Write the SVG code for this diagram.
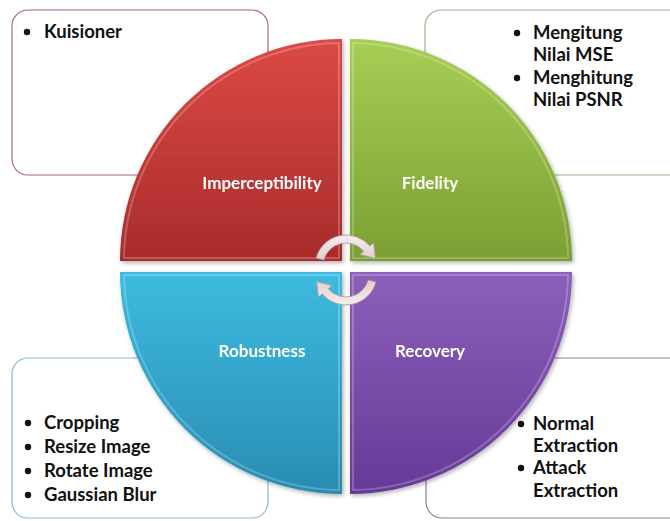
<svg xmlns="http://www.w3.org/2000/svg" width="670" height="521" viewBox="0 0 670 521">
  <defs>
    <linearGradient id="gRed" x1="0" y1="0" x2="0" y2="1">
      <stop offset="0" stop-color="#db4a45"/>
      <stop offset="1" stop-color="#a82b2b"/>
    </linearGradient>
    <linearGradient id="gGreen" x1="0" y1="0" x2="0" y2="1">
      <stop offset="0" stop-color="#a6cf55"/>
      <stop offset="1" stop-color="#7c9f33"/>
    </linearGradient>
    <linearGradient id="gBlue" x1="0" y1="0" x2="0" y2="1">
      <stop offset="0" stop-color="#3dbbe0"/>
      <stop offset="1" stop-color="#2a8cb2"/>
    </linearGradient>
    <linearGradient id="gPurple" x1="0" y1="0" x2="0" y2="1">
      <stop offset="0" stop-color="#8c5fba"/>
      <stop offset="1" stop-color="#653a98"/>
    </linearGradient>
    <linearGradient id="gArrow" x1="0" y1="0" x2="0" y2="1">
      <stop offset="0" stop-color="#f6eeee"/>
      <stop offset="1" stop-color="#e2cccc"/>
    </linearGradient>
    <filter id="shadow" x="-10%" y="-10%" width="130%" height="130%">
      <feDropShadow dx="1.5" dy="2" stdDeviation="2" flood-color="#000" flood-opacity="0.3"/>
    </filter>
  </defs>
  <style>
    .box { fill: #ffffff; stroke-width: 1.2; }
    .bevel { fill: none; stroke: #ffffff; stroke-opacity: 0.22; stroke-width: 2; }
    .label { font-family: Lato, "Liberation Sans", sans-serif; font-weight: bold; font-size: 17px; fill: #ffffff; text-anchor: middle; }
    .item { font-family: Lato, "Liberation Sans", sans-serif; font-weight: bold; font-size: 18.5px; fill: #111111; }
    .dot { fill: #111111; }
    .arrow { fill: url(#gArrow); stroke: #a89898; stroke-width: 0.8; }
  </style>

  <rect width="670" height="521" fill="#ffffff"/>

  <!-- side panels with bullet lists -->
  <g id="box-imperceptibility">
    <rect class="box" x="12" y="10" width="256" height="165" rx="16" stroke="#b5676b"/>
    <circle class="dot" cx="27" cy="32" r="3.2"/>
    <text class="item" x="44" y="38">Kuisioner</text>
  </g>
  <g id="box-fidelity">
    <rect class="box" x="425" y="10" width="262" height="165" rx="16" stroke="#a6ae8c"/>
    <circle class="dot" cx="517" cy="33" r="3.2"/>
    <text class="item" x="533" y="39">Mengitung</text>
    <text class="item" x="533" y="61">Nilai MSE</text>
    <circle class="dot" cx="517" cy="78" r="3.2"/>
    <text class="item" x="533" y="84">Menghitung</text>
    <text class="item" x="533" y="106">Nilai PSNR</text>
  </g>
  <g id="box-robustness">
    <rect class="box" x="12" y="358" width="256" height="160" rx="16" stroke="#8fb8cc"/>
    <circle class="dot" cx="28" cy="423" r="3.2"/>
    <text class="item" x="44" y="429">Cropping</text>
    <circle class="dot" cx="28" cy="447" r="3.2"/>
    <text class="item" x="44" y="453">Resize Image</text>
    <circle class="dot" cx="28" cy="471" r="3.2"/>
    <text class="item" x="44" y="477">Rotate Image</text>
    <circle class="dot" cx="28" cy="495" r="3.2"/>
    <text class="item" x="44" y="501">Gaussian Blur</text>
  </g>
  <g id="box-recovery">
    <rect class="box" x="426" y="358" width="262" height="160" rx="16" stroke="#8a7fa0"/>
    <circle class="dot" cx="521" cy="424" r="3.2"/>
    <text class="item" x="533" y="430">Normal</text>
    <text class="item" x="533" y="452">Extraction</text>
    <circle class="dot" cx="521" cy="468" r="3.2"/>
    <text class="item" x="533" y="474">Attack</text>
    <text class="item" x="533" y="497">Extraction</text>
  </g>

  <!-- four quarter-circle segments -->
  <g id="imperceptibility" filter="url(#shadow)">
    <path d="M342,261 L120,261 A222,222 0 0 1 342,39 Z" fill="url(#gRed)"/>
    <path class="bevel" d="M339,258 L124,258 A218,218 0 0 1 339,43 Z"/>
    <text class="label" x="262" y="189">Imperceptibility</text>
  </g>
  <g id="fidelity" filter="url(#shadow)">
    <path d="M350,261 L350,39 A222,222 0 0 1 572,261 Z" fill="url(#gGreen)"/>
    <path class="bevel" d="M353,258 L353,43 A218,218 0 0 1 568,258 Z"/>
    <text class="label" x="430" y="189">Fidelity</text>
  </g>
  <g id="robustness" filter="url(#shadow)">
    <path d="M342,272 L342,494 A222,222 0 0 1 120,272 Z" fill="url(#gBlue)"/>
    <path class="bevel" d="M339,275 L339,490 A218,218 0 0 1 124,275 Z"/>
    <text class="label" x="262" y="357">Robustness</text>
  </g>
  <g id="recovery" filter="url(#shadow)">
    <path d="M350,272 L572,272 A222,222 0 0 1 350,494 Z" fill="url(#gPurple)"/>
    <path class="bevel" d="M353,275 L568,275 A218,218 0 0 1 353,490 Z"/>
    <text class="label" x="430" y="357">Recovery</text>
  </g>

  <!-- circular cycle arrows at the centre -->
  <g id="connectors">
    <path id="cycle-top" class="arrow" d="M316.1,258 A31,31 0 0 1 369.8,246.1 L373.6,242.9 L375.5,258.5 L359.8,254.4 L363.6,251.2 A23,23 0 0 0 323.8,260.1 Z"/>
    <path id="cycle-bottom" class="arrow" transform="rotate(180 346 270)" d="M316.1,258 A31,31 0 0 1 369.8,246.1 L373.6,242.9 L375.5,258.5 L359.8,254.4 L363.6,251.2 A23,23 0 0 0 323.8,260.1 Z"/>
  </g>
</svg>
